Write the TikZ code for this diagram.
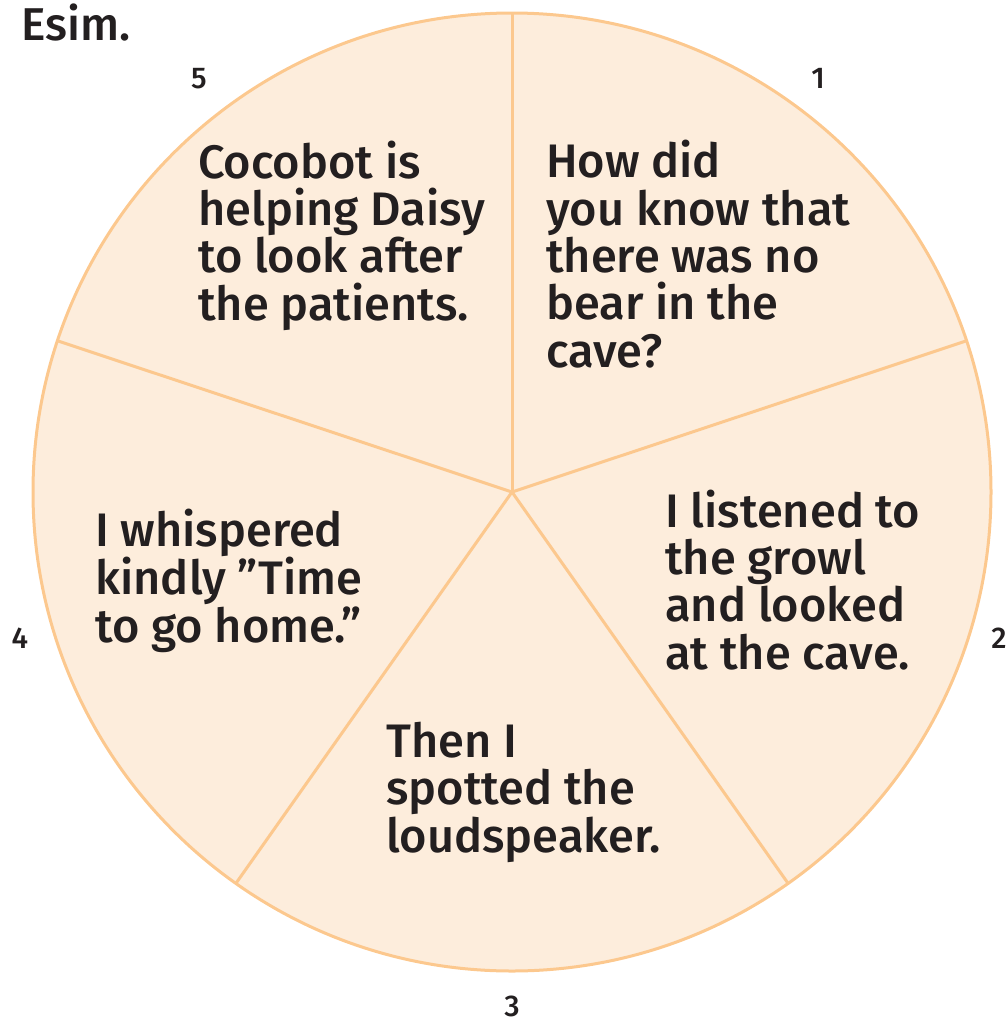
\documentclass[tikz,border=0pt]{standalone}
\usepackage{fontspec}
\setmainfont{Fira Sans}[BoldFont={Fira Sans Medium}]
\definecolor{peach}{HTML}{FDEDDC}
\definecolor{rim}{HTML}{FCC88E}
\definecolor{ink}{HTML}{231F20}
\begin{document}
\begin{tikzpicture}[x=1pt,y=-1pt,
  sector/.style={draw=rim,line width=3pt},
  txt/.style={anchor=base west,align=left,inner sep=0pt,text=ink,font=\fontsize{47}{47.3}\selectfont\bfseries},
  num/.style={anchor=base,inner sep=0pt,text=ink,font=\fontsize{30}{30}\selectfont\bfseries}]
\useasboundingbox (0,0) rectangle (1006,1021);
\coordinate (c) at (512,492);
\fill[peach] (c) circle (479);
\draw[sector] (c) circle (479);
\foreach \a in {90,18.4,-54.8,-125.2,161.6}{
  \draw[sector] (c) -- ++({479*cos(\a)},{-479*sin(\a)});
}
\node[anchor=base west,inner sep=0pt,text=ink,font=\fontsize{46}{48}\selectfont\bfseries] (title) at (21,40) {Esim.};
\node[txt] (t1) at (546,367) {How did\\you know that\\there was no\\bear in the\\cave?};
\node[txt] (t5) at (198,320) {Cocobot is\\helping Daisy\\to look after\\the patients.};
\node[txt] (t2) at (665,669) {I listened to\\the growl\\and looked\\at the cave.};
\node[txt] (t3) at (386,852) {Then I\\spotted the\\loudspeaker.};
\node[txt] (t4) at (95,642) {I whispered\\kindly ”Time\\to go home.”};
\node[num] (n1) at (818,88) {1};
\node[num] (n2) at (999,648) {2};
\node[num] (n3) at (512,1016) {3};
\node[num] (n4) at (20,648) {4};
\node[num] (n5) at (199,88) {5};
\end{tikzpicture}
\end{document}
